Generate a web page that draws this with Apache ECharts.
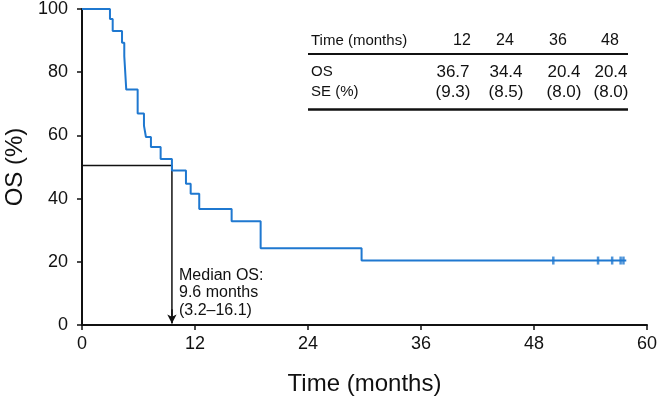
<!DOCTYPE html>
<html><head><meta charset="utf-8">
<script src="https://cdn.jsdelivr.net/npm/echarts@6/dist/echarts.min.js"></script>
<style>html,body{margin:0;padding:0;background:#fff}#c{width:661px;height:401px}</style>
</head><body><div id="c"></div>
<script>
// Kaplan-Meier step points (months, OS %)
const eventTimes = [0, 2.97, 3.26, 4.25, 4.49, 4.70, 5.91, 6.58, 6.79, 7.32, 8.35, 9.55, 11.04, 11.54, 12.45, 15.89, 18.97, 29.69, 57.8];
const survival   = [100, 96.8, 93.0, 89.3, 85.1, 74.5, 66.9, 63.1, 59.5, 56.3, 52.5, 48.9, 44.7, 41.5, 36.7, 32.8, 24.3, 20.4, 20.4];
const censorTimes = [50.05, 54.8, 56.3, 57.2, 57.5];
const censorSurv  = [20.4, 20.4, 20.4, 20.4, 20.4];
const medianOS = 9.55;
const medianLevel = 50.5;
const xTicks = [0, 12, 24, 36, 48, 60];
const yTicks = [0, 20, 40, 60, 80, 100];
const tableHeader = ['Time (months)', '12', '24', '36', '48'];
const tableOS = ['OS', '36.7', '34.4', '20.4', '20.4'];
const tableSE = ['SE (%)', '(9.3)', '(8.5)', '(8.0)', '(8.0)'];
const medianText = ['Median OS:', '9.6 months', '(3.2–16.1)'];

const FONT = 'Liberation Sans, Arial, Helvetica, sans-serif';
const BLUE = '#1f78d0';
const chart = echarts.init(document.getElementById('c'));

const kmData = eventTimes.map((t, i) => [t, survival[i]]);
const censorData = censorTimes.map((t, i) => [t, censorSurv[i]]);

// table graphics
const colX = [311, 462, 505, 558, 610];
const dataX = [311, 453, 506, 564, 611];
const graphics = [];
function row(vals, y, xs, numSize) {
  vals.forEach((v, i) => {
    graphics.push({type: 'text', x: xs[i], y: y,
      style: {text: v, font: (i === 0 ? 15 : numSize) + 'px ' + FONT, fill: '#111',
        textAlign: i === 0 ? 'left' : 'center', textVerticalAlign: 'middle'}});
  });
}
row(tableHeader, 41, colX, 16);
row(tableOS, 72, dataX, 17);
row(tableSE, 92, dataX, 17);
graphics.push({type: 'line', shape: {x1: 308, y1: 54, x2: 628, y2: 54}, style: {stroke: '#111', lineWidth: 2}});
graphics.push({type: 'line', shape: {x1: 308, y1: 109.5, x2: 628, y2: 109.5}, style: {stroke: '#111', lineWidth: 2.5}});
graphics.push({type: 'text', x: 179, y: 293, style: {text: medianText.join('\n'), font: '16px ' + FONT,
  fill: '#111', lineHeight: 17.5, textAlign: 'left', textVerticalAlign: 'middle'}});

chart.setOption({
  animation: false,
  backgroundColor: '#fff',
  grid: {left: 82, right: 14, top: 9, bottom: 76, containLabel: false, outerBoundsMode: 'none'},
  xAxis: {
    type: 'value', min: xTicks[0], max: xTicks[xTicks.length - 1], interval: 12,
    name: 'Time (months)', nameLocation: 'middle', nameGap: 47,
    nameTextStyle: {fontFamily: FONT, fontSize: 24, color: '#111'},
    axisLine: {onZero: false, lineStyle: {color: '#111', width: 2}},
    axisTick: {show: true, inside: false, length: 5, lineStyle: {color: '#111', width: 1.5}},
    axisLabel: {fontFamily: FONT, fontSize: 18, color: '#111', margin: 10},
    splitLine: {show: false}
  },
  yAxis: {
    type: 'value', min: yTicks[0], max: yTicks[yTicks.length - 1], interval: 20,
    name: 'OS (%)', nameLocation: 'middle', nameGap: 55, nameRotate: 90,
    nameTextStyle: {fontFamily: FONT, fontSize: 24, color: '#111'},
    axisLine: {show: true, onZero: false, lineStyle: {color: '#111', width: 2}},
    axisTick: {show: true, inside: false, length: 5, lineStyle: {color: '#111', width: 1.5}},
    axisLabel: {fontFamily: FONT, fontSize: 18, color: '#111', margin: 14},
    splitLine: {show: false}
  },
  series: [
    {type: 'line', step: 'end', data: kmData, symbol: 'none',
      lineStyle: {color: BLUE, width: 2}, z: 3},
    {type: 'scatter', data: censorData, symbol: 'rect', symbolSize: [2.5, 8],
      itemStyle: {color: BLUE}, z: 4},
    {type: 'line', data: [[0, medianLevel], [medianOS, medianLevel], [medianOS, 0.6]], symbol: 'none',
      lineStyle: {color: '#111', width: 1.5}, z: 2,
      markLine: {silent: true, symbol: ['none', 'arrow'], symbolSize: [7, 9], label: {show: false},
        lineStyle: {color: '#111', width: 1.5, type: 'solid'},
        data: [[{coord: [medianOS, 5]}, {coord: [medianOS, 0.5]}]]}}
  ],
  graphic: graphics
});
</script></body></html>
